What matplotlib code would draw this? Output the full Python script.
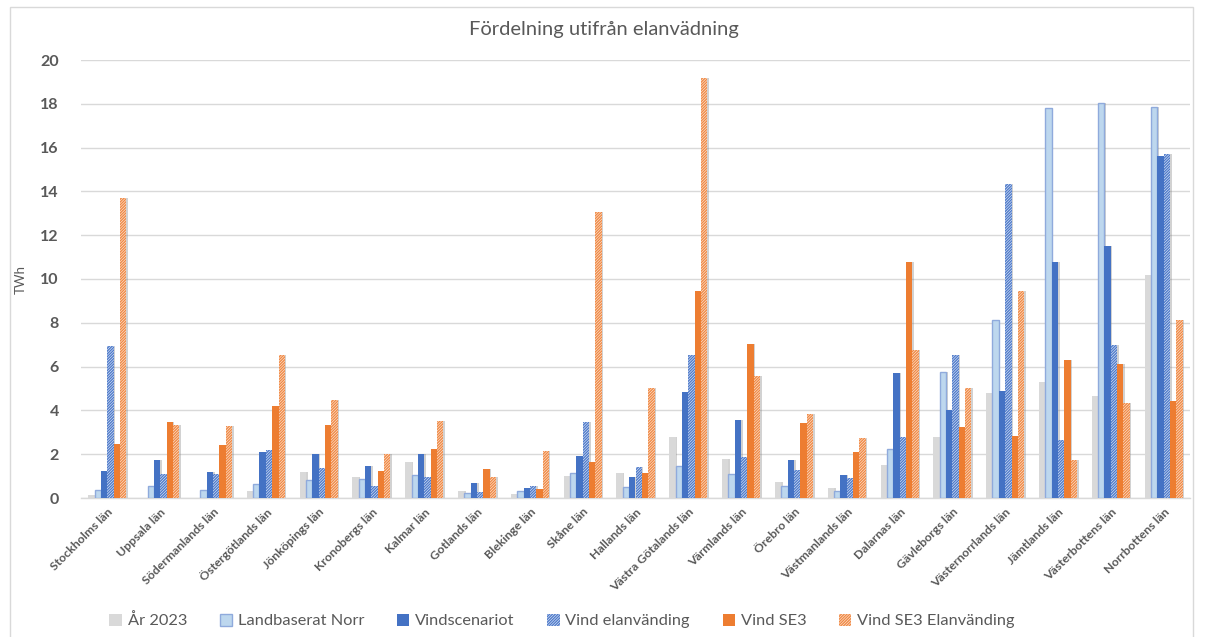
import matplotlib
matplotlib.use("Agg")
import matplotlib.pyplot as plt
from matplotlib.patches import Rectangle
import numpy as np

plt.rcParams['font.family'] = ['Lato', 'DejaVu Sans']
plt.rcParams['hatch.linewidth'] = 1.0

counties = [
    "Stockholms län", "Uppsala län", "Södermanlands län", "Östergötlands län",
    "Jönköpings län", "Kronobergs län", "Kalmar län", "Gotlands län",
    "Blekinge län", "Skåne län", "Hallands län", "Västra Götalands län",
    "Värmlands län", "Örebro län", "Västmanlands län", "Dalarnas län",
    "Gävleborgs län", "Västernorrlands län", "Jämtlands län",
    "Västerbottens län", "Norrbottens län",
]

ar_2023 = [0.14, 0.0, 0.0, 0.33, 1.2, 0.94, 1.66, 0.33, 0.17, 1.02, 1.16,
           2.77, 1.78, 0.72, 0.47, 1.51, 2.77, 4.78, 5.28, 4.67, 10.18]
landbaserat_norr = [0.38, 0.53, 0.38, 0.63, 0.8, 0.88, 1.06, 0.22, 0.3, 1.16,
                    0.52, 1.48, 1.08, 0.54, 0.34, 2.22, 5.74, 8.11, 17.8,
                    18.02, 17.87]
vindscenariot = [1.24, 1.74, 1.21, 2.12, 2.03, 1.47, 2.0, 0.67, 0.46, 1.92,
                 0.97, 4.84, 3.57, 1.74, 1.06, 5.73, 4.03, 4.9, 10.78, 11.49,
                 15.62]
vind_elanvandning = [6.94, 1.1, 1.09, 2.18, 1.39, 0.53, 0.97, 0.29, 0.56,
                     3.46, 1.43, 6.53, 1.89, 1.29, 0.92, 2.78, 6.54, 14.32,
                     2.65, 6.99, 15.69]
vind_se3 = [2.48, 3.45, 2.44, 4.22, 3.35, 1.25, 2.22, 1.32, 0.41, 1.65, 1.16,
            9.45, 7.05, 3.42, 2.12, 10.78, 3.26, 2.84, 6.29, 6.12, 4.44]
vind_se3_elanvandning = [13.71, 3.34, 3.3, 6.53, 4.46, 2.0, 3.52, 0.94, 2.16,
                         13.06, 5.02, 19.2, 5.58, 3.85, 2.74, 6.77, 5.02,
                         9.45, 1.74, 4.36, 8.14]

series = [
    ("År 2023", ar_2023, dict(facecolor="#D9D9D9", edgecolor="#D9D9D9", linewidth=0)),
    ("Landbaserat Norr", landbaserat_norr, dict(facecolor="#BDD7EE", edgecolor="#8FAADC", linewidth=1.0)),
    ("Vindscenariot", vindscenariot, dict(facecolor="#4472C4", edgecolor="#4472C4", linewidth=0)),
    ("Vind elanvänding", vind_elanvandning, dict(facecolor="#EEF3FA", edgecolor="#4F7BCB", linewidth=0, hatch="/" * 12)),
    ("Vind SE3", vind_se3, dict(facecolor="#ED7D31", edgecolor="#ED7D31", linewidth=0)),
    ("Vind SE3 Elanvänding", vind_se3_elanvandning, dict(facecolor="#FDF0E8", edgecolor="#F08A45", linewidth=0, hatch="/" * 12)),
]

text_grey = "#595959"
grid_grey = "#D9D9D9"

fig = plt.figure(figsize=(12.08, 6.37), dpi=100)
fig.patch.set_facecolor("white")

# chart frame
fig.add_artist(Rectangle((10 / 1208, -0.01), (1193 - 10) / 1208, 1.0 - 7 / 637 + 0.01,
                         transform=fig.transFigure, fill=False,
                         edgecolor="#D9D9D9", linewidth=1.0))

ax = fig.add_axes([81 / 1208, 1 - 498 / 637, (1190 - 81) / 1208, (498 - 60) / 637])

x = np.arange(len(counties))
n = len(series)
width = 0.12
offsets = (np.arange(n) - (n - 1) / 2) * width

for (label, vals, style), off in zip(series, offsets):
    # soft drop shadow to the right of each bar
    ax.bar(x + off + 0.03, vals, width=width, color="#7F7F7F", alpha=0.35,
           linewidth=0, zorder=2)
    ax.bar(x + off, vals, width=width, label=label, zorder=3, **style)

ax.set_xlim(-0.5, len(counties) - 0.5)
ax.set_ylim(0, 20)
ax.set_yticks(np.arange(0, 21, 2))
ax.yaxis.grid(True, color=grid_grey, linewidth=1.0)
ax.set_axisbelow(True)
for side in ("top", "right", "left"):
    ax.spines[side].set_visible(False)
ax.spines["bottom"].set_color(grid_grey)
ax.spines["bottom"].set_linewidth(1.0)
ax.tick_params(axis="both", length=0)
ax.tick_params(axis="y", labelsize=11.5, labelcolor=text_grey, pad=16)
for lbl in ax.get_yticklabels():
    lbl.set_fontweight("bold")

ax.set_xticks(x)
ax.set_xticklabels(counties, rotation=45, ha="right", rotation_mode="anchor",
                   fontsize=8.8, fontweight="bold", color=text_grey)
ax.tick_params(axis="x", pad=6)

ax.set_ylabel("TWh", fontsize=9.5, color=text_grey, labelpad=10)

fig.text(604 / 1208, 1 - 29 / 637, "Fördelning utifrån elanvädning",
         ha="center", va="center", fontsize=14.5, color=text_grey)

leg = fig.legend(loc="center", bbox_to_anchor=(562 / 1208, 1 - 621 / 637),
                 ncol=6, frameon=False, fontsize=11.8, handlelength=0.75,
                 handleheight=0.75, handletextpad=0.35, columnspacing=2.0,
                 labelcolor=text_grey)

fig.savefig("out.png", dpi=100, facecolor="white")
